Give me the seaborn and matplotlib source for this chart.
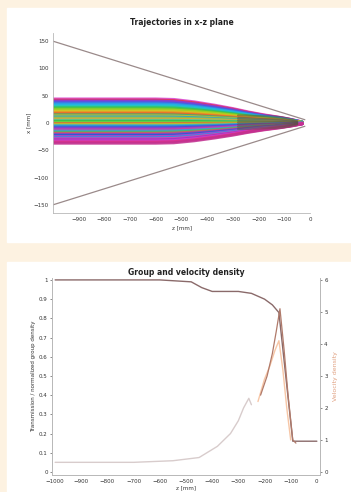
import numpy as np
import matplotlib
matplotlib.use("Agg")
import matplotlib.pyplot as plt
import seaborn as sns
import pandas as pd
from matplotlib.patches import Rectangle

#################################################
#   DATA    -------------------------------------
#################################################
# top panel: common path shape of the beam (fraction of start offset)
traj_z = [-1000, -900, -800, -700, -600, -530, -450, -370, -300, -240, -180, -120, -70, -30]
traj_shape = [1.0, 1.0, 1.0, 1.0, 1.0, 0.98, 0.88, 0.74, 0.60, 0.46, 0.34, 0.24, 0.14, 0.04]
# start offsets of the plotted trajectories [mm]
traj_start = [44, 42, 40, 37, 35, 33, 30, 28, 26, 24, 21, 19, 17, 15, 13, 11, 9, 7, 5, 3,
              1, -1, -3, -5, -7, -9, -11, -13, -15, -17, -19, -21, -23, -25, -27, -29,
              -31, -33, -35, -37]
traj_colors = ["#d63fd0", "#e03050", "#7a3fe0", "#3f5fe0", "#2f8ee8", "#1fb8e0", "#20c8b0",
               "#30c060", "#60c830", "#a8d020", "#d8c020", "#e89020", "#e86030", "#40b070",
               "#c0c030", "#2aa0d0", "#8cc840", "#f0a030", "#50c8a0", "#30c040",
               "#70d040", "#e07030", "#c0c030", "#30b0d0", "#2080e0", "#6040d0", "#a040c8",
               "#d040a0", "#30a0e0", "#40c060", "#e05060", "#8040d0", "#2060d0", "#c040d0",
               "#3090e0", "#e040b0", "#a030c0", "#d040d0", "#e03080", "#c03090"]

# top panel: dark cluster near the focus
blob_z = [-280, -230, -190, -150, -110, -80, -50]
blob_start = [14, 9, 5, 1, -3, -7, -11]
blob_shape = [1.0, 0.95, 0.9, 0.85, 0.75, 0.55, 0.25]

# top panel: acceptance envelope
env_z = [-1000, -20]
env_upper = [150, 6]
env_lower = [-150, -6]

# bottom panel: surviving fraction (left axis)
frac_z = [-1000, -600, -480, -440, -400, -300, -250, -200, -170, -145, -92, -80, 0]
frac_val = [1.0, 1.0, 0.99, 0.96, 0.94, 0.94, 0.93, 0.90, 0.87, 0.83, 0.16, 0.16, 0.16]

# bottom panel: densities (right axis)
dens_z = [-1000, -700, -550, -450, -380, -330, -300, -280, -260, -250]
dens_val = [0.3, 0.3, 0.35, 0.45, 0.8, 1.2, 1.6, 2.0, 2.3, 2.1]
peak_z = [-215, -190, -170, -155, -141, -125, -110, -92, -80]
peak_val = [2.4, 3.0, 3.7, 4.4, 5.1, 3.8, 2.4, 1.0, 0.9]
peak2_z = [-225, -200, -180, -160, -145, -130, -115, -100]
peak2_val = [2.2, 2.9, 3.3, 3.8, 4.1, 3.2, 2.0, 1.0]

x_ticks = [-1000, -900, -800, -700, -600, -500, -400, -300, -200, -100, 0]

#################################################
#   FIGURE    -----------------------------------
#################################################
sns.set_style("white")
plt.rcParams['font.family'] = ['DejaVu Sans']

fig = plt.figure(figsize=(3.51, 4.92), dpi=100, facecolor="#fdf2e1")
W, H = 351, 492
for (x0, y0, x1, y1) in [(7, 8, 351, 242), (7, 262, 351, 492)]:
    fig.patches.append(Rectangle((x0 / W, 1 - y1 / H), (x1 - x0) / W, (y1 - y0) / H,
                                 transform=fig.transFigure, color="white", zorder=-10))

tick_fs = 4.0
spine_col = "#b8b8b8"
text_col = "#333333"

#################################################
#   TOP: TRAJECTORIES    ------------------------
#################################################
ax_t = fig.add_axes([53 / W, 1 - 213 / H, (310 - 53) / W, (213 - 33) / H])
ax_t.set_facecolor("white")

rows = []
for k, y0 in enumerate(traj_start):
    for z, s in zip(traj_z, traj_shape):
        rows.append({"z": z, "x": y0 * s, "id": k})
df_traj = pd.DataFrame(rows)
sns.lineplot(data=df_traj, x="z", y="x", hue="id", palette=traj_colors,
             legend=False, linewidth=2.2, alpha=0.85, ax=ax_t, estimator=None)

rows = []
for k, y0 in enumerate(blob_start):
    for z, s in zip(blob_z, blob_shape):
        rows.append({"z": z, "x": y0 * s, "id": k})
df_blob = pd.DataFrame(rows)
sns.lineplot(data=df_blob, x="z", y="x", units="id", color="#5e5048",
             linewidth=1.6, alpha=0.55, ax=ax_t, estimator=None)

sns.lineplot(x=env_z, y=env_upper, color="#9a8a8a", linewidth=0.9, ax=ax_t)
sns.lineplot(x=env_z, y=env_lower, color="#9a8a8a", linewidth=0.9, ax=ax_t)

ax_t.set_xlim(-1000, 0)
ax_t.set_ylim(-165, 165)
ax_t.set_xticks(x_ticks[1:])
ax_t.set_yticks([150, 100, 50, 0, -50, -100, -150])
ax_t.tick_params(labelsize=tick_fs, colors=text_col, length=1.5, width=0.4, pad=1.5)
for side in ["top", "right"]:
    ax_t.spines[side].set_visible(False)
for side in ["left", "bottom"]:
    ax_t.spines[side].set_color(spine_col)
    ax_t.spines[side].set_linewidth(0.6)
ax_t.set_title("Trajectories in x-z plane", fontsize=5.5, fontweight="bold",
               color="#222222", pad=6)
ax_t.set_xlabel("z [mm]", fontsize=4, color=text_col, labelpad=2)
ax_t.set_ylabel("x [mm]", fontsize=4, color=text_col, labelpad=2)

#################################################
#   BOTTOM: GROUP AND VELOCITY    ---------------
#################################################
ax_b = fig.add_axes([52 / W, 1 - 475 / H, (320 - 52) / W, (475 - 278) / H])
ax_b.set_facecolor("white")
ax_r = ax_b.twinx()

sns.lineplot(x=frac_z, y=frac_val, color="#8a6a6a", linewidth=1.0, ax=ax_b)
sns.lineplot(x=dens_z, y=dens_val, color="#d8cccc", linewidth=1.0, ax=ax_r)
sns.lineplot(x=peak2_z, y=peak2_val, color="#f5b890", linewidth=1.0, alpha=0.8, ax=ax_r)
sns.lineplot(x=peak_z, y=peak_val, color="#b07a6a", linewidth=0.9, ax=ax_r)

ax_b.set_xlim(-1012, 12)
ax_b.set_ylim(-0.016, 1.01)
ax_r.set_ylim(-0.096, 6.06)
ax_b.set_xticks(x_ticks)
ax_b.set_yticks([0, 0.1, 0.2, 0.3, 0.4, 0.5, 0.6, 0.7, 0.8, 0.9, 1.0])
ax_b.set_yticklabels(["0", "0.1", "0.2", "0.3", "0.4", "0.5", "0.6", "0.7", "0.8", "0.9", "1"])
ax_r.set_yticks([0, 1, 2, 3, 4, 5, 6])
for a in (ax_b, ax_r):
    a.tick_params(labelsize=tick_fs, colors=text_col, length=1.5, width=0.4, pad=1.5)
    a.spines["top"].set_visible(False)
    for side in ["left", "bottom", "right"]:
        a.spines[side].set_color(spine_col)
        a.spines[side].set_linewidth(0.6)

ax_b.set_title("Group and velocity density", fontsize=5.5, fontweight="bold",
               color="#222222", pad=2)
ax_b.set_xlabel("z [mm]", fontsize=4, color=text_col, labelpad=1)
ax_b.set_ylabel("Transmission / normalized group density", fontsize=4,
                color=text_col, labelpad=2)
ax_r.set_ylabel("Velocity density", fontsize=4.5, color="#e0a080", labelpad=4)

fig.savefig("out.png", dpi=100, facecolor=fig.get_facecolor())
